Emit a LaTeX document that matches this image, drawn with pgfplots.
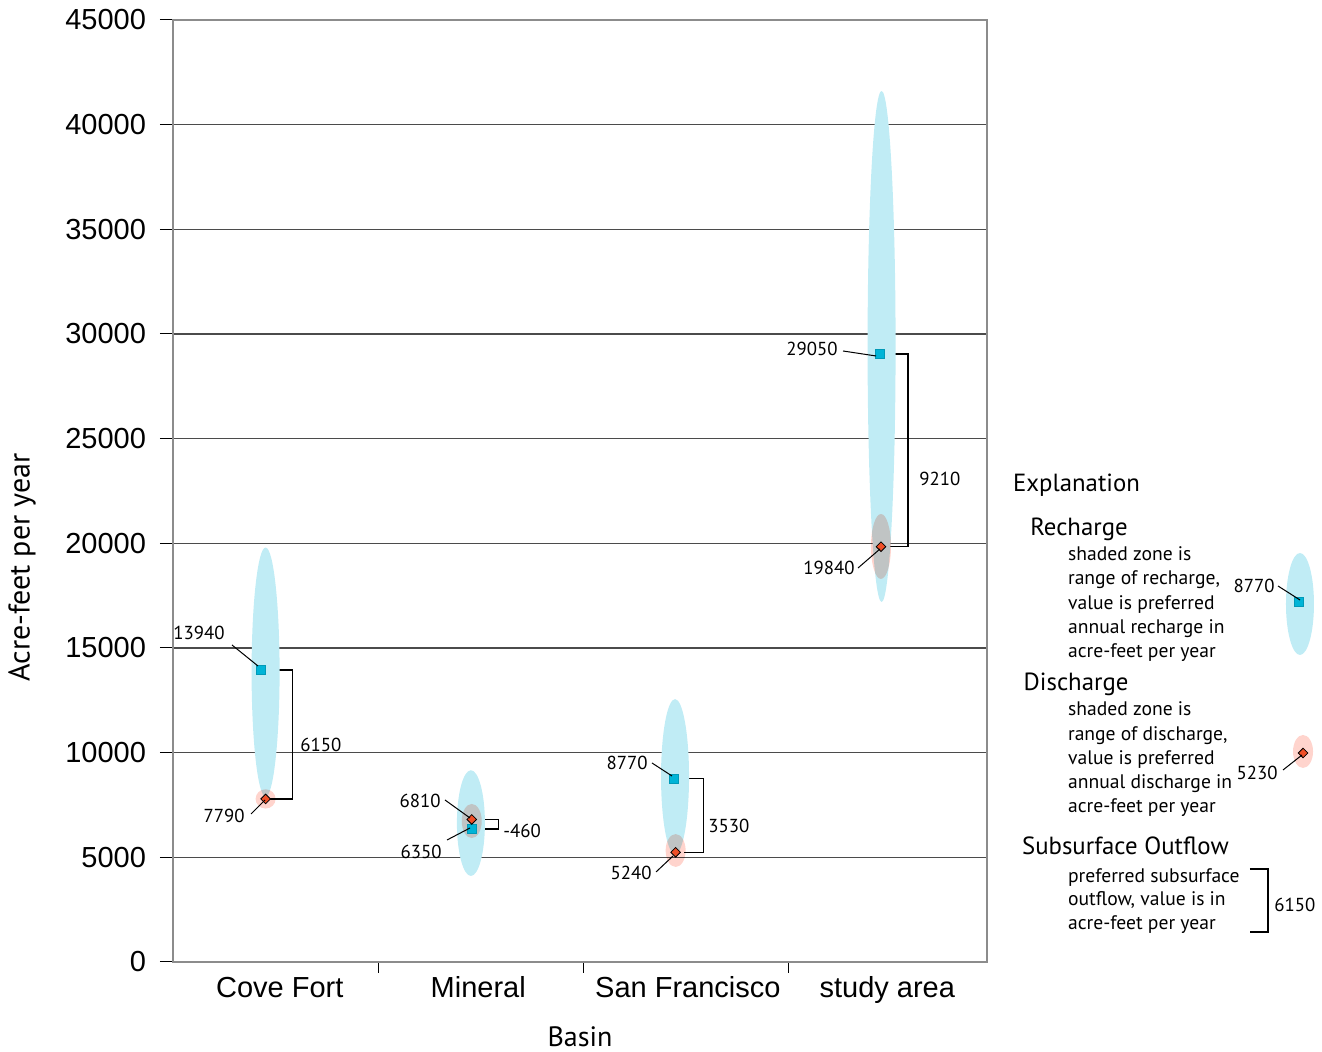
\documentclass[border=0pt]{standalone}
\usepackage{pgfplots}
\pgfplotsset{compat=1.18}
\usepackage{pgfplotstable}
\usepackage{fontspec}
\setmainfont{PT Sans}
\newfontfamily\arialfont{Liberation Sans}

\definecolor{rechargefill}{RGB}{192,236,245}
\definecolor{dischargefill}{RGB}{255,212,205}
\definecolor{rechargemark}{RGB}{0,180,215}
\definecolor{dischargemark}{RGB}{240,80,40}
\definecolor{gridgray}{RGB}{75,75,75}
\definecolor{framegray}{RGB}{140,140,140}

% vertical ellipses; half height \ry (pt) comes from the low/high range of each row
\pgfdeclareplotmark{rangeR}{%
  \pgfsetfillcolor{rechargefill}%
  \pgfpathellipse{\pgfpointorigin}{\pgfqpoint{7pt}{0pt}}{\pgfqpoint{0pt}{\ry pt}}%
  \pgfusepathqfill}
\pgfdeclareplotmark{rangeD}{%
  \pgfsetblendmode{multiply}%
  \pgfsetfillcolor{dischargefill}%
  \pgfpathellipse{\pgfpointorigin}{\pgfqpoint{5pt}{0pt}}{\pgfqpoint{0pt}{\ry pt}}%
  \pgfusepathqfill}

% range of recharge (acre-feet per year)
\pgfplotstableread{
x      lo     hi
0.455  7900   19800
1.464  4110   9160
2.467  5150   12560
3.482  17200  41610
5.538  14666  19538
}\rechargerange

% range of discharge (acre-feet per year)
\pgfplotstableread{
x      lo     hi
0.455  7330   8250
1.468  5920   7550
2.470  4540   6110
3.479  18300  21400
5.553  9268   10844
}\dischargerange

\newcommand\numfont{\fontsize{9.4}{11}\selectfont}
\newcommand\bodyfont{\fontsize{9.8}{12}\selectfont}
\newcommand\headfont{\fontsize{12.4}{15}\selectfont}
\newcommand\labfont{\fontsize{14}{17}\selectfont}
\newcommand\ylabfont{\fontsize{15}{18}\selectfont}
\newcommand\tickfont{\arialfont\fontsize{14.5}{17}\selectfont}

\begin{document}
\begin{tikzpicture}
\begin{axis}[
  name=ax, at={(0pt,0pt)}, anchor=south west,
  scale only axis, width=407pt, height=471pt,
  xmin=0, xmax=4, ymin=0, ymax=45000,
  clip=false, set layers,
  axis line style={framegray, line width=0.6pt},
  tick pos=left, tick align=outside,
  major tick length=6.5pt,
  ytick={0,5000,...,45000},
  scaled y ticks=false,
  ymajorgrids, major grid style={gridgray, line width=0.6pt},
  ytick style={black, line width=0.5pt},
  yticklabel style={font=\tickfont, xshift=-3.5pt, /pgf/number format/fixed},
  xtick={0.525,1.5,2.53,3.51},
  xticklabels={Cove Fort, Mineral, San Francisco, study area},
  xticklabel style={font=\tickfont, anchor=base, yshift=-11.5pt},
  xtick style={draw=none},
  extra x ticks={1.01,2.015,3.025},
  extra x tick labels={},
  extra x tick style={major tick length=5.5pt, xtick style={draw=black, line width=0.5pt}},
  /pgf/number format/1000 sep={},
  /pgf/number format/assume math mode=true,
]
% shaded ranges
\addplot[only marks, scatter, mark=rangeR, on layer=axis background,
  visualization depends on={(\thisrow{hi}-\thisrow{lo})*0.00523333 \as \ry}]
  table[x=x, y expr={(\thisrow{lo}+\thisrow{hi})/2}] {\rechargerange};
\addplot[only marks, scatter, mark=rangeD, on layer=axis background,
  visualization depends on={(\thisrow{hi}-\thisrow{lo})*0.00523333 \as \ry}]
  table[x=x, y expr={(\thisrow{lo}+\thisrow{hi})/2}] {\dischargerange};

% subsurface outflow brackets
\addplot[black, line width=0.75pt] coordinates {(0.493,13940) (0.588,13940) (0.588,7790) (0.460,7790)};
\addplot[black, line width=0.75pt] coordinates {(1.504,6810) (1.599,6810) (1.599,6350) (1.504,6350)};
\addplot[black, line width=0.75pt] coordinates {(2.513,8770) (2.606,8770) (2.606,5240) (2.513,5240)};
\addplot[black, line width=0.75pt] coordinates {(3.520,29050) (3.613,29050) (3.613,19840) (3.523,19840)};
\addplot[black, line width=0.75pt] coordinates {(5.292,4443) (5.381,4443) (5.381,1433) (5.292,1433)};

% preferred recharge
\addplot[only marks, mark=square*, mark size=2.25pt,
  mark options={fill=rechargemark, draw=rechargemark!85!black, line width=0.3pt}]
  coordinates {(0.429,13940) (1.468,6350) (2.462,8770) (3.474,29050) (5.533,17197)};
% preferred discharge
\addplot[only marks, mark=square*, mark size=1.7pt,
  mark options={rotate=45, fill=dischargemark, draw=none}]
  coordinates {(0.455,7790) (1.468,6810) (2.470,5240) (3.479,19840) (5.553,9984)};
\end{axis}

\begin{scope}[x=0.5pt, y=-0.5pt, shift={(-86.5pt,481pt)}]
  % leader lines
  \begin{scope}[line width=0.5pt]
    \draw (232,645) -- (258,666);
    \draw (251,814) -- (265,800);
    \draw (445,800) -- (470,818);
    \draw (447,840) -- (470,828);
    \draw (652,763) -- (672,776);
    \draw (656,872) -- (673,856);
    \draw (843,351) -- (876,356);
    \draw (858,568) -- (880,549);
    \draw (1278,586) -- (1300,600);
    \draw (1283,770) -- (1302,755);
  \end{scope}
  % values
  \begin{scope}[every node/.style={inner sep=0pt, font=\numfont}]
    \node[anchor=base west] at (173,640) {13940};
    \node[anchor=base east] at (245,823) {7790};
    \node[anchor=base west] at (300,752) {6150};
    \node[anchor=base east] at (441,808) {6810};
    \node[anchor=base east] at (442,859) {6350};
    \node[anchor=base west] at (503,838) {-460};
    \node[anchor=base east] at (648,770) {8770};
    \node[anchor=base east] at (652,879.5) {5240};
    \node[anchor=base west] at (708,833) {3530};
    \node[anchor=base east] at (838,356) {29050};
    \node[anchor=base east] at (855,575) {19840};
    \node[anchor=base west] at (919,486) {9210};
    \node[anchor=base east] at (1275,592.7) {8770};
    \node[anchor=base east] at (1278,780) {5230};
    \node[anchor=base west] at (1274,912) {6150};
  \end{scope}
  % axis titles
  \node[rotate=90, inner sep=0pt, font=\ylabfont] at (22,567.5) {Acre-feet per year};
  \node[anchor=base, inner sep=0pt, font=\labfont] at (580,1047) {Basin};
  % explanation
  \begin{scope}[every node/.style={inner sep=0pt, anchor=base west}]
    \node[font=\headfont] at (1012.7,492) {Explanation};
    \node[font=\headfont] at (1030,536) {Recharge};
    \node[font=\headfont] at (1023.3,691) {Discharge};
    \node[font=\headfont] at (1021.7,855) {Subsurface Outflow};
    \node[font=\bodyfont] at (1067.7,561) {shaded zone is};
    \node[font=\bodyfont] at (1067.7,585) {range of recharge,};
    \node[font=\bodyfont] at (1067.7,610) {value is preferred};
    \node[font=\bodyfont] at (1067.7,634) {annual recharge in};
    \node[font=\bodyfont] at (1067.7,658) {acre-feet per year};
    \node[font=\bodyfont] at (1067.7,716) {shaded zone is};
    \node[font=\bodyfont] at (1067.7,740.5) {range of discharge,};
    \node[font=\bodyfont] at (1067.7,765) {value is preferred};
    \node[font=\bodyfont] at (1067.7,789) {annual discharge in};
    \node[font=\bodyfont] at (1067.7,813) {acre-feet per year};
    \node[font=\bodyfont] at (1067.7,882.7) {preferred subsurface};
    \node[font=\bodyfont] at (1067.7,906) {outflow, value is in};
    \node[font=\bodyfont] at (1067.7,930) {acre-feet per year};
  \end{scope}
  % page frame
  \path (0,0) rectangle (1322,1052);
\end{scope}
\end{tikzpicture}
\end{document}
